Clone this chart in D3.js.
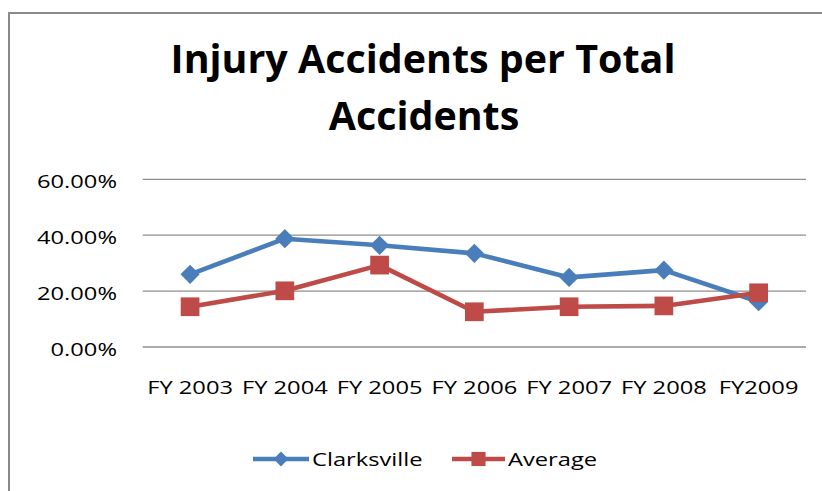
<!DOCTYPE html>
<html>
<head>
<meta charset="utf-8">
<script src="https://cdn.jsdelivr.net/npm/d3@7"></script>
<style>
  body { margin: 0; background: #fff; }
  text { font-family: "Open Sans", sans-serif; fill: #000; }
</style>
</head>
<body>
<svg id="chart" width="822" height="491"></svg>
<script>

const years = ['FY 2003', 'FY 2004', 'FY 2005', 'FY 2006', 'FY 2007', 'FY 2008', 'FY2009'];
const clarksville = [0.260, 0.3875, 0.364, 0.335, 0.249, 0.275, 0.162];
const average = [0.144, 0.201, 0.293, 0.126, 0.144, 0.147, 0.194];
const yTicks = [0, 0.2, 0.4, 0.6];
const titleLines = ['Injury Accidents per Total', 'Accidents'];
const seriesNames = ['Clarksville', 'Average'];

let svg = d3.select('#chart');

// stretch a text horizontally so it spans the given width (keeps its anchor)
function stretch(sel, target) {
    let natural = sel.node().getComputedTextLength();
    return target / natural;
}

// outer frame
svg.append('path')
    .attr('d', 'M9,491 V13 H822')
    .attr('fill', 'none')
    .attr('stroke', '#8a8a8a')
    .attr('stroke-width', 2);

// title
let t1 = svg.append('text').attr('font-weight', 'bold').attr('font-size', 39)
    .attr('text-anchor', 'middle').text(titleLines[0]);
let ts = stretch(t1, 505);
t1.attr('transform', `translate(423,73) scale(${ts},1)`);
svg.append('text').attr('font-weight', 'bold').attr('font-size', 39)
    .attr('text-anchor', 'middle')
    .attr('transform', `translate(424,130) scale(${ts},1)`)
    .text(titleLines[1]);

let x = d3.scaleBand().domain(years).range([142.7, 806]);
let y = d3.scaleLinear().domain([0, 0.6]).range([347, 179.3]);

// grid lines
svg.append('g').selectAll('line').data(yTicks).enter().append('line')
    .attr('x1', 142.7).attr('x2', 806)
    .attr('y1', d => y(d)).attr('y2', d => y(d))
    .attr('stroke', '#8e8e8e').attr('stroke-width', 1.3);

// y axis labels
let probe = svg.append('text').attr('font-size', 18.6).text('60.00%');
let sx = stretch(probe, 80);
probe.remove();

let yAxis = svg.append('g').attr('transform', 'translate(117,0)')
    .call(d3.axisLeft(y).tickValues(yTicks).tickFormat(d3.format('.2%')).tickSize(0).tickPadding(0));
yAxis.select('.domain').remove();
yAxis.selectAll('text')
    .attr('font-size', 18.6).attr('font-family', '"Open Sans", sans-serif').attr('fill', '#000')
    .attr('x', 0).attr('dy', '0.45em')
    .attr('transform', `scale(${sx},1)`);

// x axis labels
let xAxis = svg.append('g').attr('transform', 'translate(0,394)')
    .call(d3.axisBottom(x).tickSize(0).tickPadding(0));
xAxis.select('.domain').remove();
xAxis.selectAll('text')
    .attr('font-size', 18.6).attr('font-family', '"Open Sans", sans-serif').attr('fill', '#000')
    .attr('y', 0).attr('dy', 0)
    .attr('transform', `scale(${sx},1)`);

const cx = (i) => x(years[i]) + x.bandwidth() / 2;
const blue = '#4a7ebb', red = '#be4b48';
const diamond = d3.symbol().type(d3.symbolSquare);

function series(values, color, marker) {
    let line = d3.line().x((d, i) => cx(i)).y(d => y(d));
    let g = svg.append('g');
    g.append('path').datum(values)
        .attr('d', line)
        .attr('fill', 'none').attr('stroke', color)
        .attr('stroke-width', 4.6).attr('stroke-linejoin', 'round');
    g.selectAll('.m').data(values).enter().append('path')
        .attr('class', 'm')
        .attr('d', marker === 'diamond' ? d3.symbol().type(d3.symbolSquare).size(185)()
                                          : d3.symbol().type(d3.symbolSquare).size(350)())
        .attr('transform', (d, i) => `translate(${cx(i)},${y(d)})` + (marker === 'diamond' ? ' rotate(45)' : ''))
        .attr('fill', color);
}

series(clarksville, blue, 'diamond');
series(average, red, 'square');

// legend
let legend = [
    { name: seriesNames[0], color: blue, marker: 'diamond', x0: 253, x1: 309, tx: 312 },
    { name: seriesNames[1], color: red, marker: 'square', x0: 452, x1: 505, tx: 508 }
];
let lg = svg.append('g').selectAll('g').data(legend).enter().append('g');
lg.append('line')
    .attr('x1', d => d.x0).attr('x2', d => d.x1)
    .attr('y1', 459).attr('y2', 459)
    .attr('stroke', d => d.color).attr('stroke-width', 4.6);
lg.append('path')
    .attr('d', d => d.marker === 'diamond' ? d3.symbol().type(d3.symbolSquare).size(110)()
                                           : d3.symbol().type(d3.symbolSquare).size(200)())
    .attr('transform', d => `translate(${(d.x0 + d.x1) / 2},459)` + (d.marker === 'diamond' ? ' rotate(45)' : ''))
    .attr('fill', d => d.color);
lg.append('text')
    .attr('font-size', 18.6)
    .attr('transform', d => `translate(${d.tx},466) scale(${sx},1)`)
    .text(d => d.name);

</script>
</body>
</html>
